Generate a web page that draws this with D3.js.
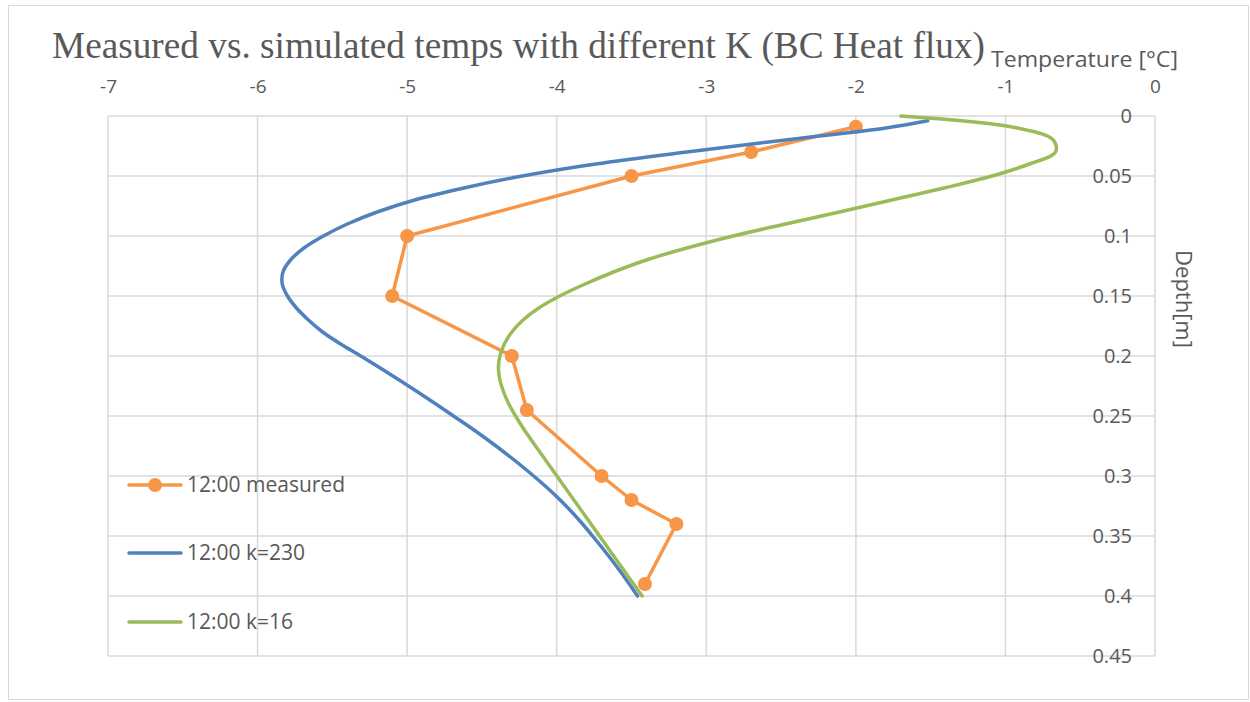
<!DOCTYPE html>
<html>
<head>
<meta charset="utf-8">
<script src="https://cdn.jsdelivr.net/npm/d3@7"></script>
<style>
  html, body { margin: 0; padding: 0; background: #fff; }
  svg text { font-family: "Open Sans", sans-serif; fill: #595959; }
</style>
</head>
<body>
<svg id="chart" width="1250" height="702"></svg>
<script>
// Measured profile (12:00)
const measuredDepth = [0.009, 0.03, 0.05, 0.10, 0.15, 0.20, 0.245, 0.30, 0.32, 0.34, 0.39];
const measuredTemp  = [-2.0, -2.7, -3.5, -5.0, -5.1, -4.3, -4.2, -3.7, -3.5, -3.2, -3.41];

// Simulated profile, k = 230
const k230Depth = [0.004, 0.01, 0.02, 0.03, 0.04, 0.05, 0.06, 0.07, 0.08, 0.09, 0.10,
                   0.11, 0.12, 0.13, 0.14, 0.15, 0.16, 0.17, 0.18, 0.19, 0.20,
                   0.21, 0.22, 0.23, 0.24, 0.25, 0.26, 0.27, 0.28, 0.29, 0.30,
                   0.31, 0.32, 0.33, 0.34, 0.35, 0.36, 0.37, 0.38, 0.39, 0.40];
const k230Temp  = [-1.52, -1.80, -2.47, -3.13, -3.74, -4.23, -4.62, -4.95, -5.20, -5.40, -5.56,
                   -5.69, -5.78, -5.83, -5.835, -5.80, -5.74, -5.66, -5.565, -5.445, -5.31,
                   -5.18, -5.053, -4.929, -4.808, -4.69, -4.572, -4.46, -4.353, -4.251, -4.154,
                   -4.062, -3.977, -3.899, -3.827, -3.76, -3.695, -3.632, -3.572, -3.515, -3.46];

// Simulated profile, k = 16
const k16Depth = [0.0, 0.01, 0.02, 0.03, 0.04, 0.05, 0.06, 0.07, 0.08, 0.09, 0.10,
                  0.11, 0.12, 0.13, 0.14, 0.15, 0.16, 0.17, 0.18, 0.19, 0.20,
                  0.21, 0.22, 0.23, 0.24, 0.25, 0.26, 0.27, 0.28, 0.29, 0.30,
                  0.31, 0.32, 0.33, 0.34, 0.35, 0.36, 0.37, 0.38, 0.39, 0.40];
const k16Temp  = [-1.70, -0.92, -0.68, -0.665, -0.84, -1.09, -1.41, -1.76, -2.11, -2.47, -2.82,
                  -3.13, -3.40, -3.62, -3.81, -3.98, -4.12, -4.225, -4.30, -4.35, -4.38,
                  -4.39, -4.38, -4.355, -4.32, -4.275, -4.225, -4.17, -4.113, -4.056, -3.999,
                  -3.942, -3.885, -3.828, -3.771, -3.714, -3.657, -3.60, -3.543, -3.486, -3.429];

const tempTicks  = [-7, -6, -5, -4, -3, -2, -1, 0];
const depthTicks = [0, 0.05, 0.1, 0.15, 0.2, 0.25, 0.3, 0.35, 0.4, 0.45];

const seriesNames  = ["12:00 measured", "12:00 k=230", "12:00 k=16"];
const seriesColors = ["#F79646", "#4F81BD", "#9BBB59"];

const svg = d3.select("#chart");
const W = 1250, H = 702;
const plot = { left: 108, right: 1155, top: 116, bottom: 656 };

const x = d3.scaleLinear().domain([-7, 0]).range([plot.left, plot.right]);
const y = d3.scaleLinear().domain([0, 0.45]).range([plot.top, plot.bottom]);

// Chart frame
svg.append("rect")
  .attr("x", 8.5).attr("y", 5.5)
  .attr("width", W - 10).attr("height", H - 8)
  .attr("fill", "#fff").attr("stroke", "#d9d9d9").attr("stroke-width", 1);

// Gridlines
const grid = svg.append("g").attr("stroke", "#d9d9d9").attr("stroke-width", 1.5);
grid.selectAll("line.h").data(depthTicks).join("line")
  .attr("x1", plot.left).attr("x2", plot.right)
  .attr("y1", d => y(d)).attr("y2", d => y(d));
grid.selectAll("line.v").data(tempTicks).join("line")
  .attr("x1", d => x(d)).attr("x2", d => x(d))
  .attr("y1", plot.top).attr("y2", plot.bottom);

// Top temperature axis labels
const xAxis = d3.axisTop(x).tickValues(tempTicks).tickSize(0).tickPadding(0)
  .tickFormat(d => d === 0 ? "0" : "-" + Math.abs(d));
const gx = svg.append("g").attr("transform", `translate(0, 93)`).call(xAxis);
gx.select(".domain").remove();
gx.selectAll("text").attr("font-size", 19).attr("font-family", "Open Sans").attr("fill", "#595959");

// Right depth axis labels (drawn over gridlines)
const yAxis = d3.axisLeft(y).tickValues(depthTicks).tickSize(0).tickPadding(0)
  .tickFormat(d3.format("~g"));
const gy = svg.append("g").attr("transform", `translate(1132, 0)`).call(yAxis);
gy.select(".domain").remove();
gy.selectAll("text").attr("font-size", 20).attr("font-family", "Open Sans").attr("fill", "#595959");

// Series
const line = d3.line().x(d => x(d.t)).y(d => y(d.d));
const smooth = d3.line().x(d => x(d.t)).y(d => y(d.d)).curve(d3.curveCatmullRom.alpha(0.5));

const measured = measuredDepth.map((d, i) => ({ d, t: measuredTemp[i] }));
const k230 = k230Depth.map((d, i) => ({ d, t: k230Temp[i] }));
const k16 = k16Depth.map((d, i) => ({ d, t: k16Temp[i] }));

svg.append("path").datum(measured).attr("d", line)
  .attr("fill", "none").attr("stroke", seriesColors[0]).attr("stroke-width", 3.5)
  .attr("stroke-linejoin", "round");
svg.append("g").selectAll("circle").data(measured).join("circle")
  .attr("cx", d => x(d.t)).attr("cy", d => y(d.d)).attr("r", 7)
  .attr("fill", seriesColors[0]);

svg.append("path").datum(k230).attr("d", smooth)
  .attr("fill", "none").attr("stroke", seriesColors[1]).attr("stroke-width", 3.5)
  .attr("stroke-linecap", "round");

svg.append("path").datum(k16).attr("d", smooth)
  .attr("fill", "none").attr("stroke", seriesColors[2]).attr("stroke-width", 3.5)
  .attr("stroke-linecap", "round");

// Legend
const legendY = [485, 553, 622];
const legend = svg.append("g");
seriesNames.forEach((name, i) => {
  const g = legend.append("g").attr("transform", `translate(0, ${legendY[i]})`);
  g.append("line").attr("x1", 129).attr("x2", 181).attr("y1", 0).attr("y2", 0)
    .attr("stroke", seriesColors[i]).attr("stroke-width", 3.5).attr("stroke-linecap", "round");
  if (i === 0) g.append("circle").attr("cx", 155).attr("cy", 0).attr("r", 7).attr("fill", seriesColors[i]);
  g.append("text").attr("x", 187).attr("y", 0).attr("dy", "0.35em")
    .attr("font-size", 21).text(name);
});

// Title and axis titles
svg.append("text").attr("x", 52).attr("y", 58)
  .style("font-family", "'Liberation Serif', 'Times New Roman', serif")
  .attr("font-size", 38)
  .attr("textLength", 933).attr("lengthAdjust", "spacingAndGlyphs")
  .text("Measured vs. simulated temps with different K (BC Heat flux)");

svg.append("text").attr("x", 991).attr("y", 67)
  .attr("font-size", 22)
  .attr("textLength", 187).attr("lengthAdjust", "spacingAndGlyphs")
  .text("Temperature [°C]");

svg.append("text")
  .attr("transform", `translate(1176, 299) rotate(90)`)
  .attr("text-anchor", "middle")
  .attr("font-size", 22).text("Depth[m]");
</script>
</body>
</html>
